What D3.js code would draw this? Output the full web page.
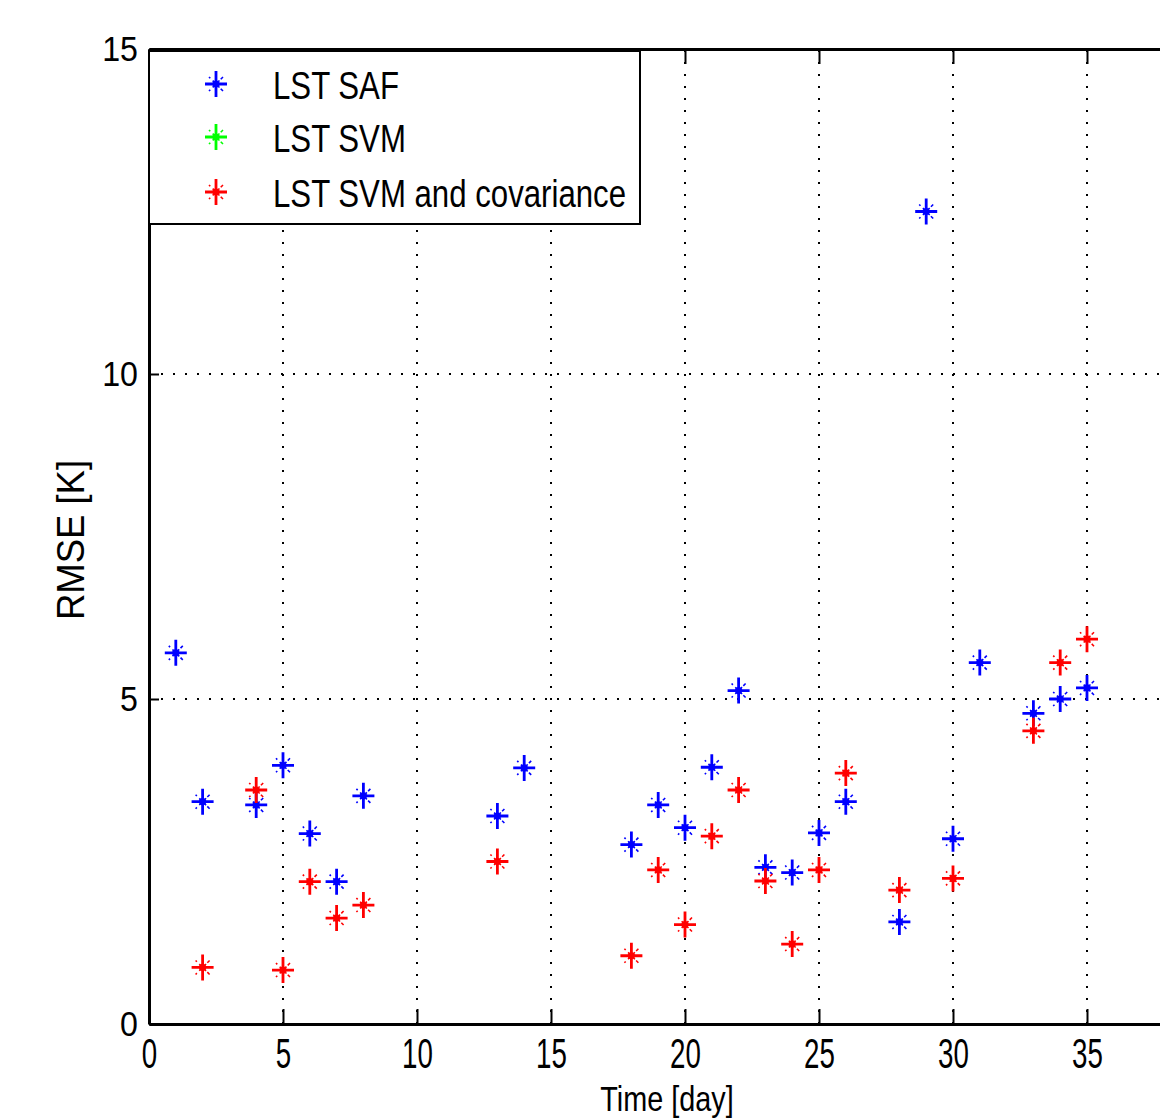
<!DOCTYPE html>
<html>
<head>
<meta charset="utf-8">
<script src="https://cdn.jsdelivr.net/npm/d3@7"></script>
<style>
  body { margin: 0; background: #fff; }
  text { font-family: "Liberation Sans", Arial, sans-serif; fill: #000; }
</style>
</head>
<body>
<div id="wrapper"></div>
<script>
// LST SAF (blue)
const safDays = [1, 2, 4, 5, 6, 7, 8, 13, 14, 18, 19, 20, 21, 22, 23, 24, 25, 26, 28, 29, 30, 31, 33, 34, 35];
const safRmse = [5.71, 3.42, 3.37, 3.98, 2.93, 2.19, 3.51, 3.2, 3.94, 2.76, 3.37, 3.02, 3.95, 5.13, 2.41, 2.33, 2.94, 3.42, 1.57, 12.5, 2.85, 5.56, 4.78, 5.0, 5.17];
// LST SVM (green) - no green marks are visible in the picture
const svmDays = [];
const svmRmse = [];
// LST SVM and covariance (red)
const covDays = [2, 4, 5, 6, 7, 8, 13, 18, 19, 20, 21, 22, 23, 24, 25, 26, 28, 30, 33, 34, 35];
const covRmse = [0.87, 3.6, 0.83, 2.19, 1.63, 1.83, 2.5, 1.05, 2.37, 1.53, 2.89, 3.6, 2.2, 1.23, 2.37, 3.86, 2.06, 2.24, 4.51, 5.56, 5.92];

const xTicks = [0, 5, 10, 15, 20, 25, 30, 35, 40];
const yTicks = [0, 5, 10, 15];
const seriesNames = ["LST SAF", "LST SVM", "LST SVM and covariance"];
const seriesColors = ["#0000ff", "#00ff00", "#ff0000"];

function drawChart() {
  let dimensions = {
    width: 1160,
    height: 1119,
    left: 149,
    top: 49,
    bottom: 1024,
    right: 149 + 40 * 26.8
  };

  const svg = d3.select("#wrapper").append("svg")
    .attr("width", dimensions.width)
    .attr("height", dimensions.height);

  const xScale = d3.scaleLinear().domain([0, 40]).range([dimensions.left, dimensions.right]);
  const yScale = d3.scaleLinear().domain([0, 15]).range([dimensions.bottom, dimensions.top]);

  // dotted grid
  const grid = svg.append("g")
    .attr("stroke", "#000")
    .attr("stroke-width", 2)
    .attr("stroke-dasharray", "2,10");
  grid.selectAll(".vg").data(xTicks.filter(d => d > 0 && d < 40)).enter().append("line")
    .attr("x1", d => xScale(d)).attr("x2", d => xScale(d))
    .attr("y1", yScale(0)).attr("y2", yScale(15));
  grid.selectAll(".hg").data(yTicks.filter(d => d > 0 && d < 15)).enter().append("line")
    .attr("y1", d => yScale(d)).attr("y2", d => yScale(d))
    .attr("x1", xScale(0)).attr("x2", xScale(40));

  // axes (the 40 label lies past the picture's right edge, so it is left blank)
  const xAxisGen = d3.axisBottom(xScale).tickValues(xTicks).tickSizeInner(-15).tickSizeOuter(0).tickPadding(29)
    .tickFormat(d => d < 40 ? d : "");
  const xAxis = svg.append("g").attr("transform", `translate(0,${dimensions.bottom})`).call(xAxisGen);
  xAxis.select(".domain").attr("stroke-width", 3);
  xAxis.selectAll(".tick line").attr("stroke-width", 2);
  xAxis.selectAll("text")
    .attr("font-size", 42)
    .attr("dy", "0.36em")
    .attr("transform", "scale(0.66,1)")
    .attr("font-family", "Liberation Sans, Arial, sans-serif");

  const topAxis = svg.append("g").attr("transform", `translate(0,${dimensions.top})`)
    .call(d3.axisTop(xScale).tickValues(xTicks).tickSizeInner(-15).tickSizeOuter(0).tickFormat(""));
  topAxis.select(".domain").attr("stroke-width", 3);
  topAxis.selectAll(".tick line").attr("stroke-width", 2);

  const yAxisGen = d3.axisLeft(yScale).tickValues(yTicks).tickSizeInner(-10).tickSizeOuter(0).tickPadding(12);
  const yAxis = svg.append("g").attr("transform", `translate(${dimensions.left},0)`).call(yAxisGen);
  yAxis.select(".domain").attr("stroke-width", 3);
  yAxis.selectAll(".tick line").attr("stroke-width", 2);
  yAxis.selectAll("text")
    .attr("font-size", 35)
    .attr("transform", "scale(0.92,1)")
    .attr("font-family", "Liberation Sans, Arial, sans-serif");

  // axis titles
  svg.append("text")
    .attr("transform", `translate(667,1111) scale(0.8,1)`)
    .attr("text-anchor", "middle")
    .attr("font-size", 36)
    .text("Time [day]");
  svg.append("text")
    .attr("transform", `translate(84,540) rotate(-90) scale(0.96,1)`)
    .attr("text-anchor", "middle")
    .attr("font-size", 38)
    .text("RMSE [K]");

  // asterisk marker like matlab '*'
  function star(g, color) {
    g.append("path")
      .attr("d", "M-11,0H11M0,-13V13")
      .attr("stroke", color).attr("stroke-width", 2.8).attr("fill", "none");
    g.append("path")
      .attr("d", "M-7,-7L7,7M-7,7L7,-7")
      .attr("stroke", color).attr("stroke-width", 1.6).attr("stroke-dasharray", "1.8,3.4,4.4,3.4,1.8").attr("fill", "none");
    g.append("circle").attr("r", 3.6).attr("fill", color);
  }

  const series = [
    { days: safDays, values: safRmse },
    { days: svmDays, values: svmRmse },
    { days: covDays, values: covRmse }
  ];
  series.forEach((s, i) => {
    const pts = s.days.map((d, j) => ({ x: d, y: s.values[j] }));
    svg.append("g").selectAll("g").data(pts).enter().append("g")
      .attr("transform", d => `translate(${xScale(d.x)},${yScale(d.y)})`)
      .each(function() { star(d3.select(this), seriesColors[i]); });
  });

  // legend
  const legend = svg.append("g");
  legend.append("rect")
    .attr("x", dimensions.left).attr("y", 51)
    .attr("width", 640 - dimensions.left).attr("height", 173)
    .attr("fill", "#fff").attr("stroke", "#000").attr("stroke-width", 2);
  const rowY = [84, 137, 192];
  seriesNames.forEach((name, i) => {
    const row = legend.append("g");
    star(row.append("g").attr("transform", `translate(216,${rowY[i]})`), seriesColors[i]);
    row.append("text")
      .attr("transform", `translate(273,${rowY[i] + 15}) scale(0.8,1)`)
      .attr("font-size", 39)
      .text(name);
  });
}

drawChart();
</script>
</body>
</html>
